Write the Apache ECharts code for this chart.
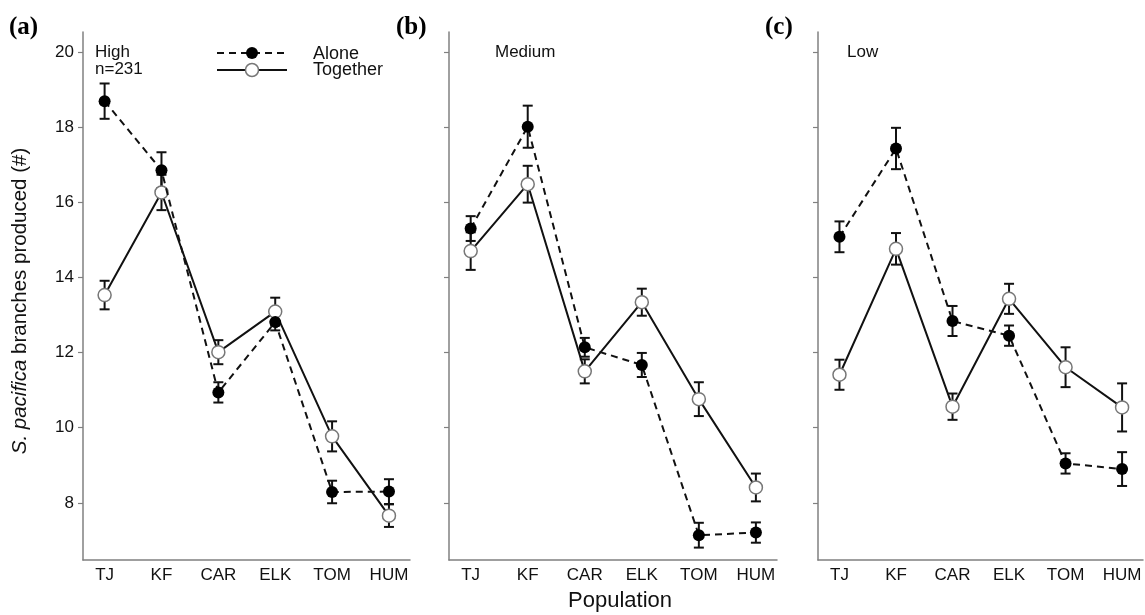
<!DOCTYPE html>
<html><head><meta charset="utf-8">
<script src="https://cdn.jsdelivr.net/npm/echarts@6/dist/echarts.min.js"></script>
<style>html,body{margin:0;padding:0;background:#fff}#c{width:1145px;height:615px}</style>
</head><body><div id="c"></div>
<script>
const categories = ['TJ','KF','CAR','ELK','TOM','HUM'];
const yTicks = [8,10,12,14,16,18,20];
const panelLabels = ['(a)','(b)','(c)'];
const panelTitles = ['High\nn=231','Medium','Low'];

const highAlone      = [18.69, 16.85, 10.94, 12.81, 8.29, 8.30];
const highAloneSE    = [0.47, 0.48, 0.27, 0.22, 0.30, 0.33];
const highTogether   = [13.53, 16.26, 12.01, 13.09, 9.77, 7.66];
const highTogetherSE = [0.38, 0.47, 0.32, 0.37, 0.40, 0.30];

const mediumAlone      = [15.30, 18.01, 12.14, 11.67, 7.14, 7.21];
const mediumAloneSE    = [0.33, 0.56, 0.25, 0.32, 0.33, 0.27];
const mediumTogether   = [14.70, 16.48, 11.50, 13.34, 10.76, 8.41];
const mediumTogetherSE = [0.50, 0.49, 0.32, 0.36, 0.45, 0.37];

const lowAlone      = [15.08, 17.43, 12.84, 12.45, 9.05, 8.90];
const lowAloneSE    = [0.41, 0.55, 0.40, 0.27, 0.27, 0.45];
const lowTogether   = [11.41, 14.76, 10.56, 13.43, 11.61, 10.54];
const lowTogetherSE = [0.40, 0.42, 0.35, 0.40, 0.53, 0.64];

const panels = [
  {alone: highAlone, aloneSE: highAloneSE, tog: highTogether, togSE: highTogetherSE},
  {alone: mediumAlone, aloneSE: mediumAloneSE, tog: mediumTogether, togSE: mediumTogetherSE},
  {alone: lowAlone, aloneSE: lowAloneSE, tog: lowTogether, togSE: lowTogetherSE}
];

const FONT = '"Liberation Sans", Arial, sans-serif';
const AXIS_COLOR = '#808080';
const gridLefts = [83, 449, 818];
const gridWidths = [327, 328, 325];

const grids = [], xAxes = [], yAxes = [], series = [];
panels.forEach((p, k) => {
  grids.push({left: gridLefts[k], width: gridWidths[k], top: 32, bottom: 55, containLabel: false});
  xAxes.push({
    type: 'value', gridIndex: k, min: -0.38, max: 5.37,
    axisLine: {show: true, onZero: false, lineStyle: {color: AXIS_COLOR, width: 1.5}},
    axisTick: {show: false},
    splitLine: {show: false},
    axisLabel: {customValues: [0,1,2,3,4,5], formatter: v => categories[Math.round(v)] || '',
      color: '#111', fontFamily: FONT, fontSize: 17, margin: 7}
  });
  yAxes.push({
    type: 'value', gridIndex: k, min: 6.48, max: 20.53,
    axisLine: {show: true, onZero: false, lineStyle: {color: AXIS_COLOR, width: 1.5}},
    axisTick: {show: true, customValues: yTicks, length: 5, lineStyle: {color: AXIS_COLOR, width: 1.2}},
    splitLine: {show: false},
    axisLabel: {show: k === 0, customValues: yTicks, color: '#111', fontFamily: FONT, fontSize: 17, margin: 9},
    name: k === 0 ? '{i|S. pacifica} branches produced (#)' : '',
    nameLocation: 'middle', nameGap: 52, nameRotate: 90,
    nameTextStyle: {color: '#111', fontFamily: FONT, fontSize: 20.5, padding: [0, 10, 0, 0],
      rich: {i: {fontStyle: 'italic', fontFamily: FONT, fontSize: 20.5, color: '#111'}}}
  });
  const errData = [];
  p.alone.forEach((v, i) => errData.push([i, v, p.aloneSE[i]]));
  p.tog.forEach((v, i) => errData.push([i, v, p.togSE[i]]));
  series.push({
    type: 'custom', xAxisIndex: k, yAxisIndex: k, z: 1, silent: true,
    data: errData,
    renderItem: (params, api) => {
      const x = api.value(0), y = api.value(1), se = api.value(2);
      const top = api.coord([x, y + se]);
      const bot = api.coord([x, y - se]);
      const hw = 5;
      const st = {stroke: '#111', lineWidth: 2};
      return {type: 'group', children: [
        {type: 'line', shape: {x1: top[0], y1: top[1], x2: bot[0], y2: bot[1]}, style: st},
        {type: 'line', shape: {x1: top[0]-hw, y1: top[1], x2: top[0]+hw, y2: top[1]}, style: st},
        {type: 'line', shape: {x1: bot[0]-hw, y1: bot[1], x2: bot[0]+hw, y2: bot[1]}, style: st}
      ]};
    }
  });
  series.push({
    type: 'line', name: 'Alone', xAxisIndex: k, yAxisIndex: k, z: 3,
    data: p.alone.map((v, i) => [i, v]),
    symbol: 'circle', symbolSize: 12,
    lineStyle: {color: '#111', width: 2, type: [7, 5]},
    itemStyle: {color: '#000', borderColor: '#000', borderWidth: 0},
    emphasis: {disabled: true}, animation: false
  });
  series.push({
    type: 'line', name: 'Together', xAxisIndex: k, yAxisIndex: k, z: 2,
    data: p.tog.map((v, i) => [i, v]),
    symbol: 'circle', symbolSize: 13,
    lineStyle: {color: '#111', width: 2, type: 'solid'},
    itemStyle: {color: '#fff', borderColor: '#777', borderWidth: 1.5},
    emphasis: {disabled: true}, animation: false
  });
});

const letterX = [9, 396, 765];
const titleX = [95, 495, 847];
const graphic = [];
panelLabels.forEach((t, k) => {
  graphic.push({type: 'text', x: letterX[k], y: 28,
    style: {text: t, font: 'bold 25px "Liberation Serif", "Times New Roman", serif', fill: '#000', verticalAlign: 'middle'}});
  graphic.push({type: 'text', x: titleX[k], y: 44,
    style: {text: panelTitles[k], font: '17px ' + FONT, fill: '#111', lineHeight: 17, verticalAlign: 'top'}});
});
// legend
graphic.push({type: 'line', shape: {x1: 217, y1: 53, x2: 287, y2: 53}, style: {stroke: '#111', lineWidth: 2, lineDash: [7, 5]}});
graphic.push({type: 'circle', shape: {cx: 252, cy: 53, r: 6}, style: {fill: '#000'}});
graphic.push({type: 'line', shape: {x1: 217, y1: 70, x2: 287, y2: 70}, style: {stroke: '#111', lineWidth: 2}});
graphic.push({type: 'circle', shape: {cx: 252, cy: 70, r: 6.5}, style: {fill: '#fff', stroke: '#777', lineWidth: 1.5}});
graphic.push({type: 'text', x: 313, y: 54, style: {text: 'Alone', font: '18px ' + FONT, fill: '#111', verticalAlign: 'middle'}});
graphic.push({type: 'text', x: 313, y: 70, style: {text: 'Together', font: '18px ' + FONT, fill: '#111', verticalAlign: 'middle'}});
graphic.push({type: 'text', x: 620, y: 601, style: {text: 'Population', font: '22px ' + FONT, fill: '#111', align: 'center', verticalAlign: 'middle'}});

const chart = echarts.init(document.getElementById('c'));
chart.setOption({
  animation: false,
  backgroundColor: '#fff',
  grid: grids, xAxis: xAxes, yAxis: yAxes, series: series, graphic: graphic
});
</script></body></html>
